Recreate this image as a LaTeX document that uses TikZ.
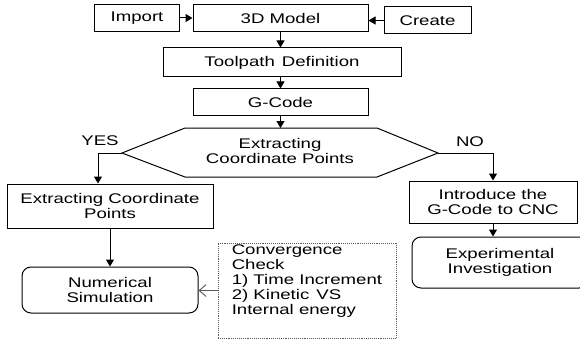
\documentclass[tikz,border=0pt]{standalone}
\usepackage{fontspec}
\setmainfont{Liberation Sans}[FakeStretch=1.33]
\usetikzlibrary{arrows.meta}

\begin{document}
\begin{tikzpicture}[
  x=1pt,
  y=-1pt,
  font=\fontsize{14}{15}\selectfont,
  flow box/.style={
    draw,
    line width=1pt,
    inner sep=0pt,
    align=center
  },
  round box/.style={
    flow box,
    rounded corners=9pt
  },
  check box/.style={
    draw,
    densely dotted,
    gray!70!black,
    line width=0.9pt
  },
  flow arrow/.style={
    -{Triangle[length=7pt,width=8pt]},
    line width=1pt
  },
  check arrow/.style={
    -{Straight Barb[length=7pt,width=12pt]},
    gray!70!black,
    line width=0.9pt
  },
]
\useasboundingbox (0,0) rectangle (580,342);
% top row
\node[flow box, minimum width=85pt, minimum height=27pt] (import) at (137,18) {Import};
\node[flow box, minimum width=175pt, minimum height=27pt] (model) at (280.5,18.5) {3D Model};
\node[flow box, minimum width=87pt, minimum height=27pt] (create) at (427.5,20.5) {Create};
\node[flow box, minimum width=238pt, minimum height=29pt] (toolpath) at (282,62.5) {Toolpath\enspace Definition};
\node[flow box, minimum width=175pt, minimum height=26pt] (gcode) at (280.5,102) {G-Code};
% decision
\draw[line width=1pt] (122,153) -- (185,128) -- (377,128) -- (438,153)
  -- (377,177) -- (185,177) -- cycle;
\coordinate (yes tip) at (122,153);
\coordinate (no tip) at (438,153);
\coordinate (dec top) at (280.5,128);
\node[align=center] (extracting) at (280,151) {Extracting\\Coordinate Points};
\node (yes) at (100,141) {YES};
\node (no) at (470,142) {NO};
% left branch
\node[flow box, minimum width=206pt, minimum height=44pt] (points) at (110,206) {Extracting Coordinate\\Points};
\node[round box, minimum width=176pt, minimum height=46pt] (numsim) at (110,290) {Numerical\\Simulation};
\node[check box, minimum width=178pt, minimum height=95pt] (conv) at (307,290.5) {};
\node[anchor=north west, align=left, inner sep=0pt] (conv text) at ([shift={(14,2)}]conv.north west)
  {Convergence\\Check\\1) Time Increment\\2) Kinetic\enspace VS\\Internal energy};
% right branch
\node[flow box, minimum width=168pt, minimum height=42pt] (cnc) at (493,202) {Introduce the\\G-Code to CNC};
\node[round box, minimum width=176pt, minimum height=51pt] (experiment) at (500,262.5) {Experimental\\Investigation};

\draw[flow arrow] (import.east) -- (import.east -| model.west);
\draw[flow arrow] (create.west) -- (create.west -| model.east);
\draw[flow arrow] (model.south) -- (model.south |- toolpath.north);
\draw[flow arrow] (toolpath.south -| gcode.south) -- (gcode.north);
\draw[flow arrow] (gcode.south) -- (dec top);
\draw[flow arrow] (yes tip) -| ([xshift=-12pt]points.north);
\draw[flow arrow] (points.south) -- (numsim.north);
\draw[flow arrow] (no tip) -| (cnc.north);
\draw[flow arrow] (cnc.south) -- (cnc.south |- experiment.north);
\draw[check arrow] (conv.west) -- (conv.west -| numsim.east);
\end{tikzpicture}
\end{document}
